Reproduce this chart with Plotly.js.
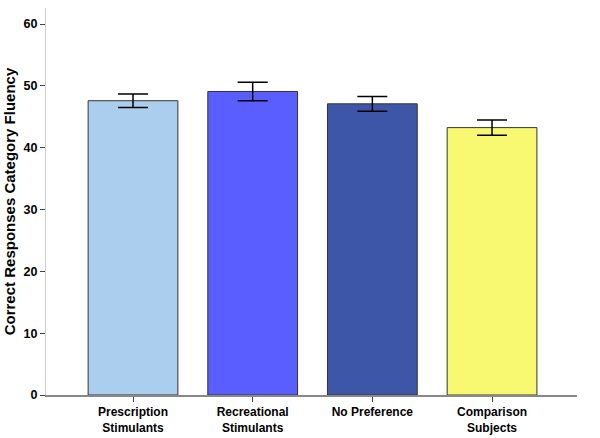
<!DOCTYPE html>
<html><head><meta charset="utf-8">
<script src="https://cdn.plot.ly/plotly-3.0.1.min.js"></script>
<style>html,body{margin:0;padding:0;background:#fff}#chart{width:600px;height:438px}</style>
</head><body><div id="chart"></div>
<script>
const categories = ["Prescription<br>Stimulants", "Recreational<br>Stimulants", "No Preference", "Comparison<br>Subjects"];
const means = [47.6, 49.1, 47.1, 43.25];
const errors = [1.1, 1.5, 1.2, 1.25];
const colors = ["#abcdee", "#5a5eff", "#3e56a8", "#f9f871"];
const yTicks = [0, 10, 20, 30, 40, 50, 60];

const trace = {
  type: "bar",
  x: categories,
  y: means,
  width: 0.75,
  marker: {color: colors, line: {color: "#333333", width: 1}},
  error_y: {type: "data", array: errors, visible: true, color: "#000", thickness: 1.5, width: 15}
};
const layout = {
  width: 600, height: 438,
  margin: {l: 46, r: 23, t: 8, b: 43},
  paper_bgcolor: "#fff", plot_bgcolor: "#fff",
  showlegend: false,
  font: {family: "Liberation Sans, Arial, sans-serif", color: "#000"},
  xaxis: {
    range: [-0.727, 3.71],
    showline: true, linecolor: "#888", linewidth: 1.5,
    ticks: "outside", ticklen: 5, tickcolor: "#444",
    tickfont: {size: 12, family: "Liberation Sans, Arial, sans-serif", weight: "bold"},
    showgrid: false, zeroline: false
  },
  yaxis: {
    range: [0, 62.6],
    tickvals: yTicks,
    showline: true, linecolor: "#ccc", linewidth: 1,
    ticks: "outside", ticklen: 5, tickcolor: "#444",
    tickfont: {size: 12.5, family: "Liberation Sans, Arial, sans-serif", weight: "bold"},
    showgrid: false, zeroline: false,
    title: {text: "Correct Responses Category Fluency", font: {size: 15, family: "Liberation Sans, Arial, sans-serif", weight: "bold"}, standoff: 4}
  }
};
Plotly.newPlot("chart", [trace], layout, {displayModeBar: false, staticPlot: true});
</script></body></html>
